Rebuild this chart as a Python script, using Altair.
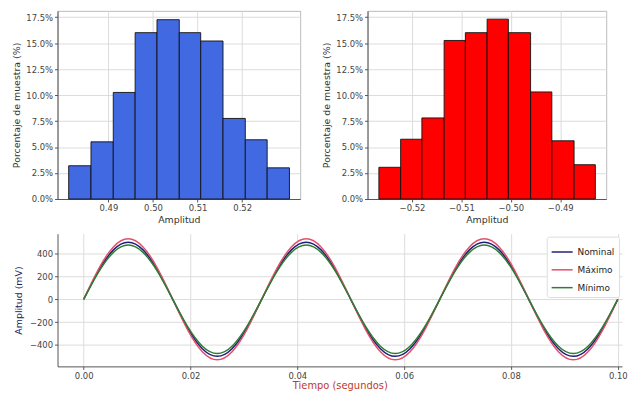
import altair as alt
import pandas as pd

# ---- histogram data (bin edges in V, heights in % of sample) ----
left_edges = [0.4811, 0.4861, 0.4911, 0.4960, 0.5009, 0.5059, 0.5107, 0.5157, 0.5207, 0.5256, 0.5306]
left_pct = [3.2, 5.5, 10.25, 16.0, 17.25, 16.0, 15.2, 7.75, 5.7, 3.0]
left_ticks = [0.49, 0.50, 0.51, 0.52]

right_edges = [-0.5267, -0.5223, -0.5180, -0.5135, -0.5092, -0.5048, -0.5005, -0.4960, -0.4917, -0.4872, -0.4829]
right_pct = [3.05, 5.75, 7.8, 15.25, 16.0, 17.3, 16.0, 10.3, 5.6, 3.3]
right_ticks = [-0.52, -0.51, -0.50, -0.49]

pct_ticks = [0.0, 0.025, 0.05, 0.075, 0.10, 0.125, 0.15, 0.175]

# ---- waveform data (time in s, amplitude in mV) ----
t_s = [0.0, 0.00278, 0.00556, 0.00833, 0.01111, 0.01389, 0.01667, 0.01944, 0.02222, 0.025,
       0.02778, 0.03056, 0.03333, 0.03611, 0.03889, 0.04167, 0.04444, 0.04722, 0.05, 0.05278,
       0.05556, 0.05833, 0.06111, 0.06389, 0.06667, 0.06944, 0.07222, 0.075, 0.07778, 0.08056,
       0.08333, 0.08611, 0.08889, 0.09167, 0.09444, 0.09722, 0.1]
nominal = [0, 250, 433, 500, 433, 250, 0, -250, -433, -500, -433, -250,
           0, 250, 433, 500, 433, 250, 0, -250, -433, -500, -433, -250,
           0, 250, 433, 500, 433, 250, 0, -250, -433, -500, -433, -250, 0]
maximo = [0, 265, 459, 530, 459, 265, 0, -265, -459, -530, -459, -265,
          0, 265, 459, 530, 459, 265, 0, -265, -459, -530, -459, -265,
          0, 265, 459, 530, 459, 265, 0, -265, -459, -530, -459, -265, 0]
minimo = [0, 238, 411, 475, 411, 238, 0, -238, -411, -475, -411, -238,
          0, 238, 411, 475, 411, 238, 0, -238, -411, -475, -411, -238,
          0, 238, 411, 475, 411, 238, 0, -238, -411, -475, -411, -238, 0]
series_names = ["Nominal", "Máximo", "Mínimo"]
series_colors = ["#1f1f78", "#e0506a", "#2e7d32"]
time_ticks = [0.0, 0.02, 0.04, 0.06, 0.08, 0.10]
mv_ticks = [-400, -200, 0, 200, 400]

FONT = "DejaVu Sans"
HIST_H = 190
SPACING = 9
WAVE_W = 570
WAVE_H = 134


def hist(edges, pct, color, xdom, xticks, w):
    df = pd.DataFrame({"x0": edges[:-1], "x1": edges[1:], "p": [v / 100 for v in pct]})
    return alt.Chart(df).mark_bar(color=color, stroke="#111111", strokeWidth=0.9, opacity=1).encode(
        x=alt.X("x0:Q", scale=alt.Scale(domain=xdom, nice=False, zero=False),
                axis=alt.Axis(values=xticks, format=".2f", title="Amplitud", titlePadding=2)),
        x2="x1:Q",
        y=alt.Y("p:Q", scale=alt.Scale(domain=[0, 0.181], nice=False),
                axis=alt.Axis(values=pct_ticks, format=".1%", title="Porcentaje de muestra (%)",
                              titlePadding=4)),
        y2=alt.datum(0),
    ).properties(width=w, height=HIST_H)


h_left = hist(left_edges, left_pct, "#4169e1", [0.4786, 0.5330], left_ticks, 245)
h_right = hist(right_edges, right_pct, "#ff0000", [-0.5290, -0.4807], right_ticks, 241)

rows = []
for name, vals in zip(series_names, [nominal, maximo, minimo]):
    for t, v in zip(t_s, vals):
        rows.append({"t": t, "v": v, "s": name})
wave = pd.DataFrame(rows)

lines = alt.Chart(wave).mark_line(strokeWidth=1.5, interpolate="natural").encode(
    x=alt.X("t:Q", scale=alt.Scale(domain=[-0.0049, 0.1008], nice=False, zero=False),
            axis=alt.Axis(values=time_ticks, format=".2f", title="Tiempo (segundos)",
                          titleColor="#c0392b", titleFontSize=10, titlePadding=1)),
    y=alt.Y("v:Q", scale=alt.Scale(domain=[-588, 575], nice=False),
            axis=alt.Axis(values=mv_ticks, title="Amplitud (mV)", titleColor="#1a1a5e",
                          titlePadding=6)),
    color=alt.Color("s:N", scale=alt.Scale(domain=series_names, range=series_colors),
                    legend=alt.Legend(title=None, orient="none", legendX=WAVE_W - 76,
                                      legendY=HIST_H + 27 + SPACING + 2,
                                      symbolType="stroke", symbolSize=450, symbolStrokeWidth=1.5,
                                      labelFontSize=9, rowPadding=1, padding=4,
                                      fillColor="white", strokeColor="#dddddd", cornerRadius=2)),
).properties(width=WAVE_W, height=WAVE_H, view=alt.ViewBackground(stroke=None))

top = alt.hconcat(h_left, h_right, spacing=20)
chart = alt.vconcat(top, lines, spacing=SPACING).properties(
    padding={"left": 3, "top": 0, "right": 0, "bottom": 0}
).configure_axis(
    labelFont=FONT, titleFont=FONT, labelFontSize=8.5, titleFontSize=9.5,
    labelColor="#444444", titleColor="#333333", titleFontWeight="normal",
    gridColor="#dcdcdc", domainColor="#555555", tickColor="#555555", tickSize=3,
    labelPadding=2,
).configure_legend(labelFont=FONT, labelColor="#222222").configure_view(stroke="#bbbbbb")

chart.save("out.html", embed_options={"renderer": "svg", "actions": False})
